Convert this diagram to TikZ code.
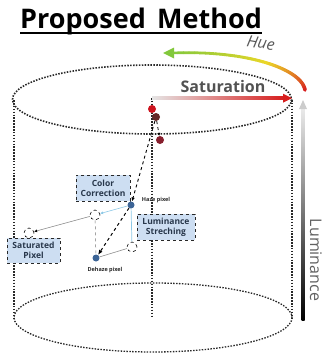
\documentclass[tikz,border=0pt]{standalone}
\usepackage{fontspec}
\setmainfont{Open Sans}
\usetikzlibrary{arrows.meta}
\definecolor{dotgray}{RGB}{40,40,40}
\definecolor{boxfill}{RGB}{205,222,242}
\definecolor{boxtext}{RGB}{40,55,75}
\definecolor{pixblue}{RGB}{60,100,150}
\definecolor{hred}{RGB}{215,30,30}
\definecolor{hyellow}{RGB}{235,215,40}
\definecolor{hgreen}{RGB}{130,200,60}
\definecolor{lblue}{RGB}{140,200,230}
\definecolor{dred}{RGB}{205,20,30}
\definecolor{brownred}{RGB}{100,40,40}
\definecolor{darkred}{RGB}{135,30,45}
\def\bx#1{(1-#1)^3*305+3*(1-#1)^2*#1*302+3*(1-#1)*#1^2*250+#1^3*172}
\def\by#1{(1-#1)^3*90+3*(1-#1)^2*#1*70+3*(1-#1)*#1^2*50+#1^3*53}
\begin{document}
\begin{tikzpicture}[x=1pt,y=-1pt,
  cyl/.style={line width=1.6pt, dash pattern=on 1.5pt off 1.4pt, color=dotgray},
  proc/.style={draw=dotgray, dashed, line width=0.9pt, fill=boxfill,
    font=\bfseries\fontsize{8.5}{10}\selectfont, text=boxtext, align=center, inner sep=1pt},
  pix/.style={circle, fill=pixblue, minimum size=7pt, inner sep=0pt},
  ghost/.style={circle, draw=black, dashed, fill=white, minimum size=10pt, inner sep=0pt, line width=0.6pt},
  rdot/.style={circle, minimum size=8pt, inner sep=0pt},
  small/.style={font=\bfseries\fontsize{5.5}{6}\selectfont, text=black!85}]
\useasboundingbox (0,0) rectangle (323,356);
% title
\node[font=\bfseries\fontsize{27}{27}\selectfont, anchor=base west, inner sep=0pt] (title) at (20,28) {Proposed\hspace{0.42em}Method};
\draw[line width=1.8pt] ([yshift=-5pt]title.base west) -- ([yshift=-5pt]title.base east);
% cylinder
\draw[cyl] (152,99.5) ellipse [x radius=139.5, y radius=34.5];
\draw[cyl, line width=1.3pt] (153,317.5) ellipse [x radius=139, y radius=34.5];
\draw[cyl] (14,100) -- (14,318);
\draw[cyl] (292,100) -- (292,318);
\draw[cyl] (152,98) -- (152,318);
% hue arc
\foreach \i in {0,...,19} {
  \pgfmathsetmacro\ta{\i/40}\pgfmathsetmacro\tb{(\i+1)/40}
  \pgfmathsetmacro\xa{\bx{\ta}}\pgfmathsetmacro\ya{\by{\ta}}
  \pgfmathsetmacro\xb{\bx{\tb}}\pgfmathsetmacro\yb{\by{\tb}}
  \pgfmathtruncatemacro\pc{100-5*\i}
  \pgfmathsetmacro\lw{3.6-0.025*\i}
  \draw[line width=\lw pt, color=hred!\pc!hyellow, line cap=round] (\xa,\ya) -- (\xb,\yb);
}
\foreach \i in {20,...,39} {
  \pgfmathsetmacro\ta{\i/40}\pgfmathsetmacro\tb{(\i+1)/40}
  \pgfmathsetmacro\xa{\bx{\ta}}\pgfmathsetmacro\ya{\by{\ta}}
  \pgfmathsetmacro\xb{\bx{\tb}}\pgfmathsetmacro\yb{\by{\tb}}
  \pgfmathtruncatemacro\pc{100-5*(\i-20)}
  \pgfmathsetmacro\lw{3.6-0.025*\i}
  \draw[line width=\lw pt, color=hyellow!\pc!hgreen, line cap=round] (\xa,\ya) -- (\xb,\yb);
}
\fill[hgreen] (163,53) -- (174,47.5) -- (174,58.5) -- cycle;
\node[font=\itshape\fontsize{16}{16}\selectfont, text=black!65, rotate=-10] (hue) at (261,43) {Hue};
% saturation arrow
\shade[left color=black!10, right color=hred] (152,96.7) rectangle (284,99.7);
\fill[hred] (292,98.2) -- (283,93.7) -- (283,102.7) -- cycle;
\node[font=\bfseries\fontsize{16}{16}\selectfont, text=black!68] (sat) at (223,86) {Saturation};
% luminance arrow
\shade[top color=black!8, bottom color=black] (301.5,108) rectangle (304.5,320);
\fill[black!20] (303,100) -- (299,109) -- (307,109) -- cycle;
\node[rotate=-90, font=\fontsize{16}{16}\selectfont, text=black!62] (lum) at (316,260) {Luminance};
% boxes
\node[proc, minimum width=54pt, minimum height=26pt] (cc) at (103,188) {Color\\Correction};
\node[proc, minimum width=58pt, minimum height=26pt] (ls) at (166,227) {Luminance\\Streching};
\node[proc, minimum width=53pt, minimum height=25pt] (sp) at (33.5,250.5) {Saturated\\Pixel};
% pixels
\node[rdot, fill=dred] (r1) at (152,109) {};
\node[rdot, fill=brownred] (r2) at (156,117) {};
\node[rdot, fill=darkred] (r3) at (160,140) {};
\node[pix] (haze) at (131,205) {};
\node[pix] (dehaze) at (96,258) {};
\node[ghost] (ga) at (95,215) {};
\node[ghost] (gb) at (132,247) {};
\node[ghost] (gs) at (29,233) {};
\node[small] (hl) at (156,200) {Haze pixel};
\node[small] (dl) at (105,270) {Dehaze pixel};
% connectors
\draw[lblue, line width=0.6pt, -{Latex[length=3pt,width=3pt]}] (haze) -- (ga);
\draw[black!45, line width=0.6pt, -{Latex[length=3pt,width=3pt,color=black]}] (ga) -- (gs);
\draw[lblue, line width=0.7pt] (haze) -- (gb);
\draw[black!45, line width=0.6pt] (gb) -- (dehaze);
\draw[black!55, dashed, line width=0.5pt] (ga) -- (dehaze);
\draw[black, dashed, line width=1pt, -{Latex[length=5pt,width=4pt]}] (haze) -- (dehaze);
\draw[black, dashed, line width=0.9pt, -{Latex[length=4pt,width=3.5pt]}] (r2) -- (haze);
\draw[black, dashed, line width=0.8pt, -{Latex[length=3pt,width=3pt]}] (r2) -- (r3);
\end{tikzpicture}
\end{document}
